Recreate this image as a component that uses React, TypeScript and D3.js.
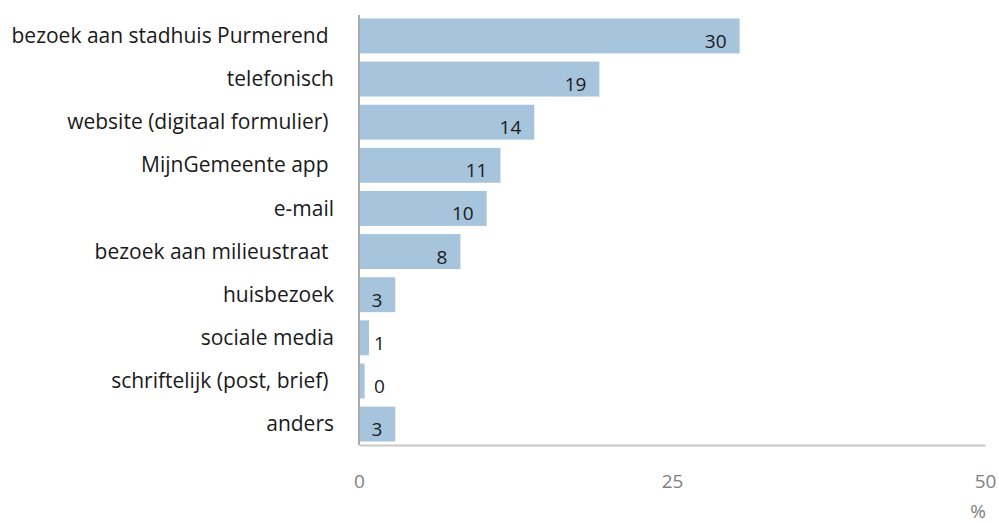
import React, { useRef, useEffect } from 'react'
import * as d3 from 'd3'

// contact channels, top to bottom
const categories = [
  'bezoek aan stadhuis Purmerend ',
  'telefonisch',
  'website (digitaal formulier) ',
  'MijnGemeente app ',
  'e-mail',
  'bezoek aan milieustraat ',
  'huisbezoek',
  'sociale media',
  'schriftelijk (post, brief) ',
  'anders',
]
const percentages = [30.4, 19.2, 14.0, 11.3, 10.2, 8.1, 2.9, 0.8, 0.45, 2.9]
const xTicks = [0, 25, 50]

const App: React.FC = () => {
  const svgRef = useRef<SVGSVGElement | null>(null)

  useEffect(() => {
    const svg = d3.select(svgRef.current)
    svg.selectAll('*').remove()

    const width = 999
    const height = 523
    const margin = { top: 15, right: 14, bottom: 78, left: 359 }
    const font = "'Open Sans', sans-serif"

    svg.attr('width', width).attr('height', height)

    const x = d3.scaleLinear().domain([0, 50]).range([margin.left, width - margin.right])
    const y = d3
      .scaleBand()
      .domain(categories)
      .range([margin.top, height - margin.bottom])
      .paddingInner(0.19)
      .paddingOuter(0.08)

    // bars
    svg
      .append('g')
      .attr('fill', '#a6c4dc')
      .selectAll('rect')
      .data(percentages)
      .enter()
      .append('rect')
      .attr('x', x(0))
      .attr('y', (_, i) => y(categories[i])!)
      .attr('width', (d) => x(d) - x(0))
      .attr('height', y.bandwidth())

    // value labels
    const fmt = d3.format('.0f')
    svg
      .append('g')
      .attr('font-family', font)
      .attr('font-size', 19)
      .attr('fill', '#1a1a1a')
      .selectAll('text')
      .data(percentages)
      .enter()
      .append('text')
      .attr('x', (d) => (d < 2 ? x(0) + 15 : x(d) - 13))
      .attr('text-anchor', (d) => (d < 2 ? 'start' : 'end'))
      .attr('y', (_, i) => y(categories[i])! + y.bandwidth() / 2 + 12)
      .text((d) => fmt(d))

    // y axis (category labels + line)
    const yAxis = svg
      .append('g')
      .attr('transform', `translate(${margin.left},0)`)
      .call(d3.axisLeft(y).tickSize(0).tickPadding(25))
    yAxis.select('.domain').attr('stroke', '#aaaaaa').attr('stroke-width', 2)
      .attr('d', `M0,${margin.top}V${height - margin.bottom}`)
    yAxis
      .selectAll('text')
      .attr('font-family', font)
      .attr('font-size', 21)
      .attr('fill', '#1a1a1a')
      .attr('dy', '0.34em')
      .style('white-space', 'pre')

    // x axis
    const xAxis = svg
      .append('g')
      .attr('transform', `translate(0,${height - margin.bottom})`)
      .call(d3.axisBottom(x).tickValues(xTicks).tickSize(0).tickPadding(30))
    xAxis.select('.domain').attr('stroke', '#c8c8c8').attr('stroke-width', 2)
    xAxis
      .selectAll('text')
      .attr('font-family', font)
      .attr('font-size', 19)
      .attr('fill', '#808080')

    svg
      .append('text')
      .attr('x', x(50) - 7)
      .attr('y', height - 5)
      .attr('text-anchor', 'middle')
      .attr('font-family', font)
      .attr('font-size', 19)
      .attr('fill', '#808080')
      .text('%')
  }, [])

  return <svg ref={svgRef} style={{ position: 'absolute', left: 0, top: 0 }}></svg>
}

export default App
